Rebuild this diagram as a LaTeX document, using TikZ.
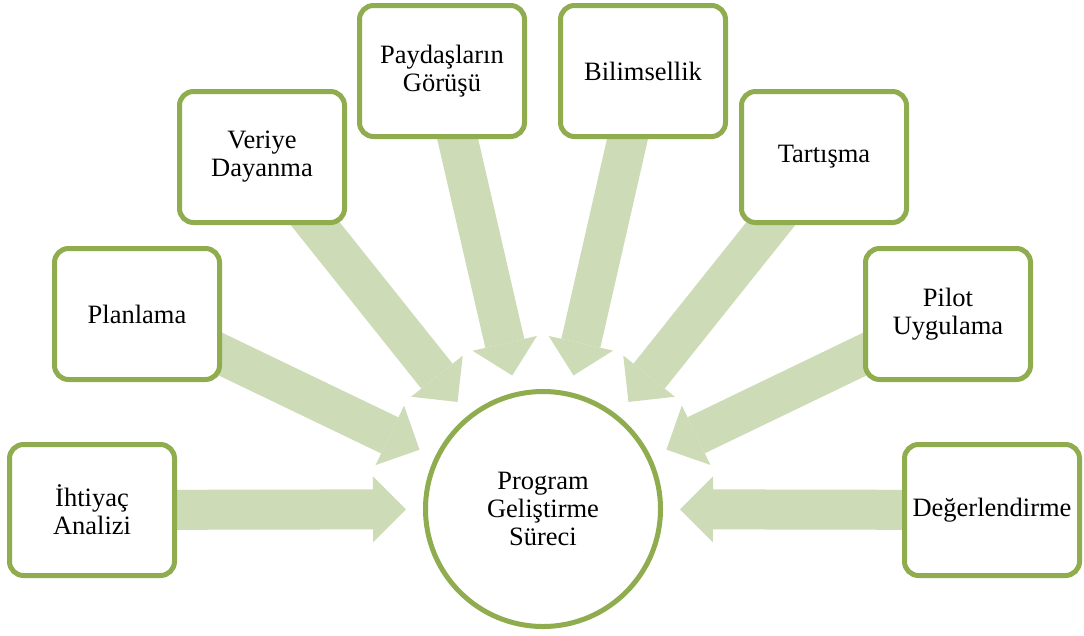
\documentclass[tikz,border=0pt]{standalone}
\usepackage{fontspec}
\setmainfont{Liberation Serif}
\usetikzlibrary{calc,arrows.meta,backgrounds}
\definecolor{boxgreen}{RGB}{143,172,79}
\definecolor{arrowgreen}{RGB}{205,219,183}
\tikzset{
  stage/.style={shape=rectangle, rounded corners=14pt, draw=boxgreen, line width=5pt, fill=white,
    minimum width=165pt, minimum height=131pt, align=center, font=\fontsize{26.5}{28}\selectfont},
  flow/.style={line width=40pt, draw=arrowgreen, -{Triangle[width=66pt,length=33pt,line width=0pt]}}
}
\begin{document}
\begin{tikzpicture}[x=1pt,y=-1pt]
\useasboundingbox (0,0) rectangle (1084,635);
\node[shape=circle, draw=boxgreen, line width=5pt, fill=white, minimum size=235pt, align=center,
  font=\fontsize{26.5}{28}\selectfont] (surec) at (543,509) {Program\\Geliştirme\\Süreci};
\node[stage] (ihtiyac) at (92,510) {İhtiyaç\\Analizi};
\node[stage] (planlama) at (137,314) {Planlama};
\node[stage] (veri) at (262,157) {Veriye\\Dayanma};
\node[stage] (paydas) at (442,71) {Paydaşların\\Görüşü};
\node[stage] (bilim) at (643,71) {Bilimsellik};
\node[stage] (tartisma) at (824,157) {Tartışma};
\node[stage] (pilot) at (948,314) {Pilot\\Uygulama};
\node[stage, minimum width=175pt] (deger) at (992,510) {Değerlendirme};
\begin{scope}[on background layer]
\foreach \s in {ihtiyac,planlama,veri,paydas,bilim,tartisma,pilot,deger}
  \draw[flow] (\s.center) -- ($(surec)!137pt!(\s)$);
\end{scope}
\end{tikzpicture}
\end{document}
